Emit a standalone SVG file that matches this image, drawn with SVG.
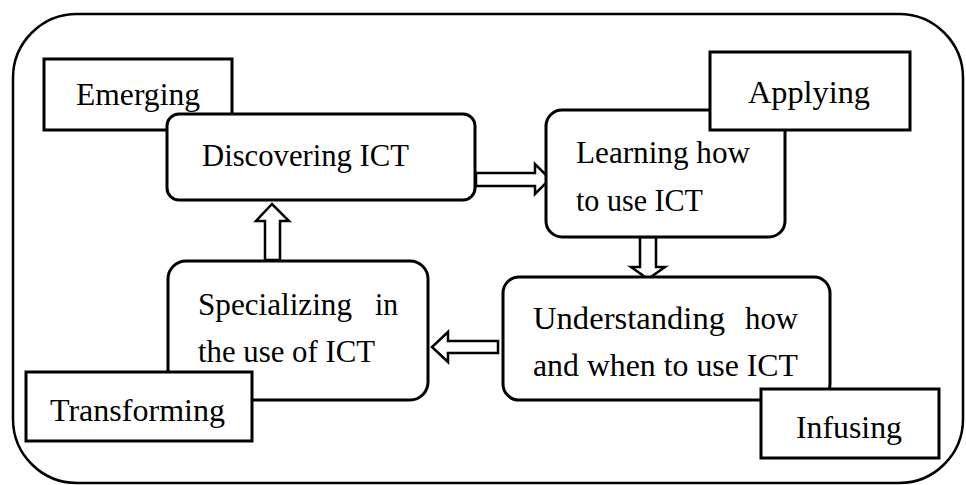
<svg xmlns="http://www.w3.org/2000/svg" width="966" height="485" viewBox="0 0 966 485">
<style>
.frame{fill:#fff;stroke:#000;stroke-width:2.5}
.box{fill:#fff;stroke:#000;stroke-width:3}
.arrow{fill:#fff;stroke:#000;stroke-width:2.5;stroke-linejoin:miter}
text{font-family:"Liberation Serif","Times New Roman",serif;font-size:31px;fill:#000}
</style>
<rect class="frame" x="13" y="14" width="950" height="469" rx="64" ry="64"/>
<g id="connectors">
<path class="arrow" d="M476,173 L535,173 L535,164 L550,179 L535,194 L535,186 L476,186 Z"/>
<path class="arrow" d="M640,237 L640,267 L631,267 L648,279 L665,267 L656,267 L656,237 Z"/>
<path class="arrow" d="M498,341 L448,341 L448,332 L432,347 L448,362 L448,353 L498,353 Z"/>
<path class="arrow" d="M265,260 L265,221 L256,221 L272,204 L289,221 L280,221 L280,260 Z"/>
</g>
<g id="emerging">
<rect class="box" x="44" y="59" width="188" height="71"/>
<text x="76" y="105" textLength="124" lengthAdjust="spacingAndGlyphs">Emerging</text>
</g>
<g id="discovering">
<rect class="box" x="167" y="114" width="308" height="86" rx="12" ry="12"/>
<text x="202" y="166" textLength="207" lengthAdjust="spacingAndGlyphs">Discovering ICT</text>
</g>
<g id="learning">
<rect class="box" x="546" y="110" width="239" height="127" rx="16" ry="16"/>
<text x="576" y="163" textLength="174" lengthAdjust="spacingAndGlyphs">Learning how</text>
<text x="576" y="211" textLength="127" lengthAdjust="spacingAndGlyphs">to use ICT</text>
</g>
<g id="applying">
<rect class="box" x="710" y="52" width="200" height="78"/>
<text x="748" y="103" textLength="122" lengthAdjust="spacingAndGlyphs">Applying</text>
</g>
<g id="understanding">
<rect class="box" x="503" y="277" width="327" height="123" rx="16" ry="16"/>
<text x="533" y="329"><tspan textLength="192" lengthAdjust="spacingAndGlyphs">Understanding</tspan> <tspan x="745" textLength="53" lengthAdjust="spacingAndGlyphs">how</tspan></text>
<text x="533" y="376" textLength="265" lengthAdjust="spacingAndGlyphs">and when to use ICT</text>
</g>
<g id="infusing">
<rect class="box" x="761" y="389" width="178" height="69"/>
<text x="796" y="438" textLength="106" lengthAdjust="spacingAndGlyphs">Infusing</text>
</g>
<g id="specializing">
<rect class="box" x="168" y="261" width="260" height="139" rx="18" ry="18"/>
<text x="198" y="315"><tspan textLength="154" lengthAdjust="spacingAndGlyphs">Specializing</tspan> <tspan x="375" textLength="23" lengthAdjust="spacingAndGlyphs">in</tspan></text>
<text x="198" y="362" textLength="177" lengthAdjust="spacingAndGlyphs">the use of ICT</text>
</g>
<g id="transforming">
<rect class="box" x="26" y="372" width="226" height="69"/>
<text x="50" y="421" textLength="175" lengthAdjust="spacingAndGlyphs">Transforming</text>
</g>
</svg>
